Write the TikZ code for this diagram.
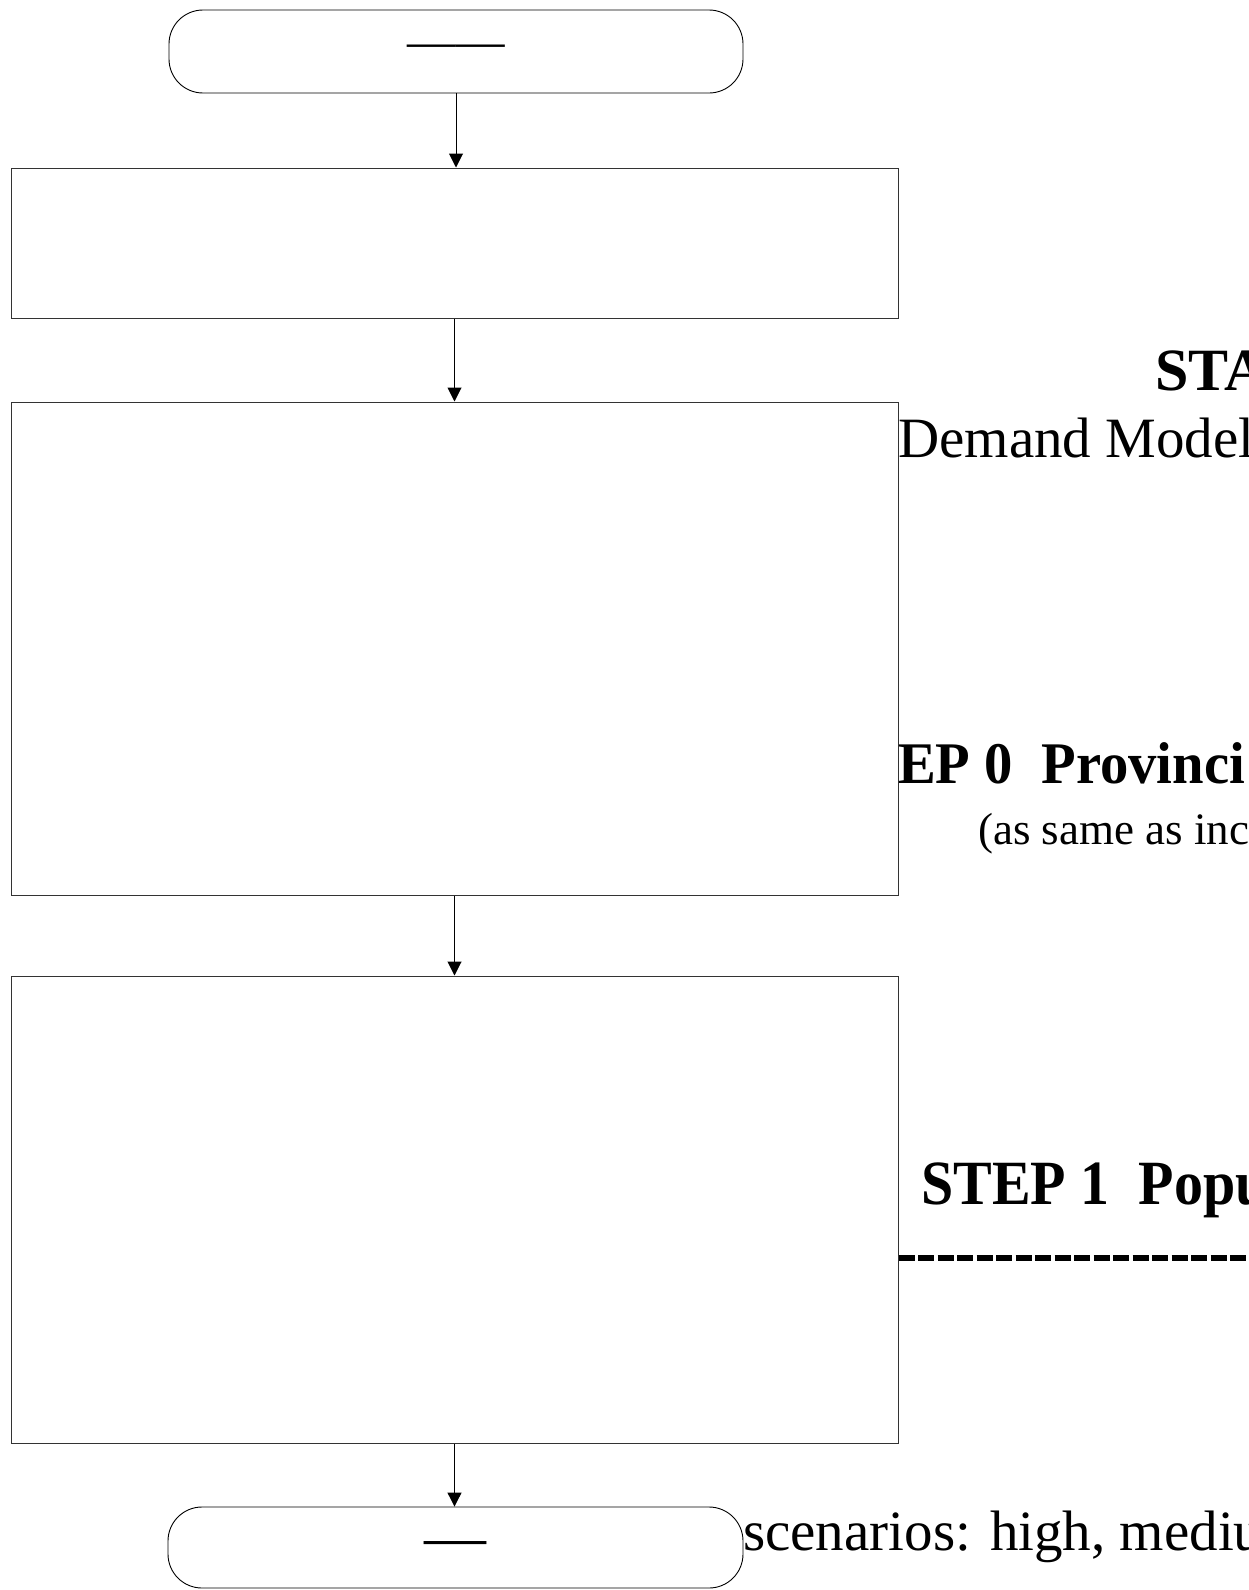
\documentclass[tikz,border=0pt]{standalone}
\usepackage{fontspec}
\setmainfont{Liberation Serif}
\usetikzlibrary{arrows.meta}
\newcommand\fsz[1]{\fontsize{#1}{#1}\selectfont}
\begin{document}
\begin{tikzpicture}[x=1pt,y=-1pt,
  flowbox/.style={draw=black!80, line width=1pt, inner sep=0pt, minimum width=887pt},
  termbox/.style={draw=black, line width=0.9pt, rounded corners=34pt, inner sep=0pt},
  arr/.style={draw=black, line width=1pt, -{Triangle[length=14pt,width=14pt]}},
  lab/.style={anchor=base west, inner sep=0pt},
  dashlab/.style={anchor=base, inner sep=0pt},
  ]
\useasboundingbox (0,0) rectangle (1249,1590);
\fill[white] (0,0) rectangle (1249,1590);
\clip (0,0) rectangle (1249,1590);

% flow chart: terminals and process boxes
\node[termbox, minimum width=574pt, minimum height=83pt] (term1) at (456,51.5) {};
\node[flowbox, minimum height=150pt] (box1) at (454.5,243) {};
\node[flowbox, minimum height=493pt] (box2) at (454.5,648.5) {};
\node[flowbox, minimum height=467pt] (box3) at (454.5,1209.5) {};
\node[termbox, minimum width=575pt, minimum height=81pt] (term2) at (455.5,1547.5) {};

% terminal texts
\node[dashlab, font={\fsz{48.5}}] (dash1) at (456,57) {——};
\node[dashlab, font={\fsz{62}}] (dash2) at (455,1557) {—};

% connectors
\draw[arr] (term1.south) -- (term1.south |- box1.north);
\draw[arr] (box1.south) -- (box2.north);
\draw[arr] (box2.south) -- (box3.north);
\draw[arr] (box3.south) -- (box3.south |- term2.north);

% labels to the right of the boxes
\node[lab, font={\fsz{60}\bfseries}] (sta) at (1155,390) {STA};
\node[lab, font={\fsz{57}}] (dem) at (898,457) {Demand Model};
\node[lab, font={\fsz{59}\bfseries}] (ep0) at (898,783) {\scalebox{0.96}[1]{EP 0\ \ Provinci}};
\node[lab, font={\fsz{45}}] (same) at (978,844) {(as same as inc};
\node[lab, font={\fsz{63}\bfseries}] (st1) at (921,1204) {\scalebox{0.92}[1]{STEP 1\ \ Popu}};
\node[lab, font={\fsz{57}}] (scen) at (743,1550) {scenarios: high, mediu};

% dashed separator
\coordinate (dashend) at (1249,1258);
\draw[line width=5.5pt, dash pattern=on 16pt off 3.5pt] (box3.east |- dashend) -- (dashend);
\end{tikzpicture}
\end{document}
